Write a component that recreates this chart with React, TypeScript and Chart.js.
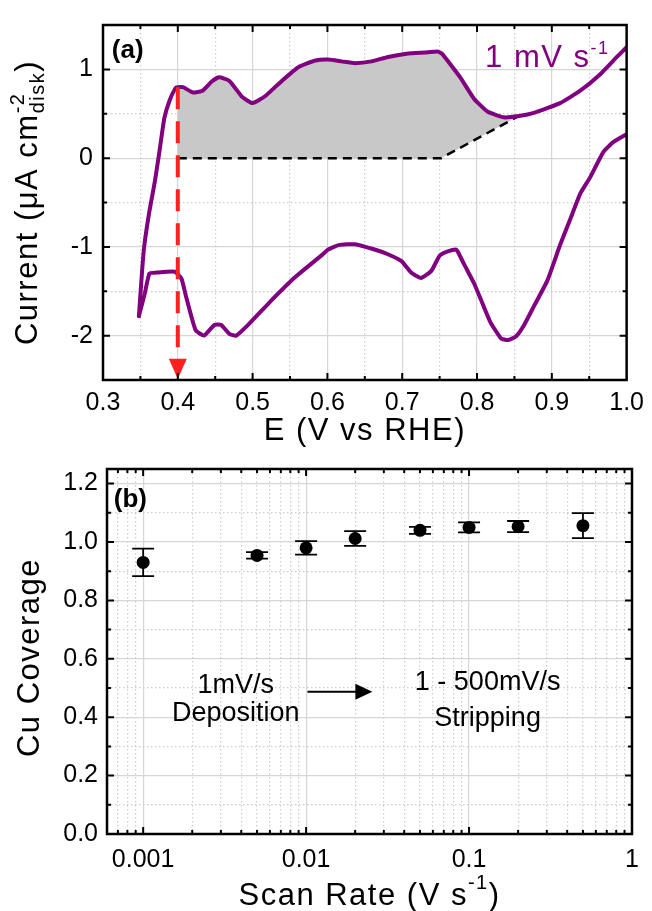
import React, { useEffect, useRef } from 'react';
import { Chart, registerables } from 'chart.js';
Chart.register(...registerables);

const FONT = "'Liberation Sans', Arial, sans-serif";
const PURPLE = '#800080';
const RED = '#ff2020';

// ---------------- Panel (a): cyclic voltammogram ----------------
const anodicE = [0.348, 0.352, 0.355, 0.362, 0.369, 0.375, 0.382, 0.389, 0.397, 0.400, 0.407, 0.420, 0.433, 0.445, 0.455, 0.469, 0.486, 0.500, 0.517, 0.539, 0.562, 0.584, 0.601, 0.619, 0.637, 0.659, 0.681, 0.708, 0.730, 0.748, 0.754, 0.765, 0.778, 0.796, 0.814, 0.836, 0.856, 0.876, 0.911, 0.938, 0.964, 0.987, 1.000];
const anodicI = [-1.78, -1.30, -1.00, -0.60, -0.28, 0.05, 0.45, 0.65, 0.79, 0.80, 0.80, 0.74, 0.76, 0.86, 0.91, 0.87, 0.69, 0.62, 0.70, 0.87, 1.03, 1.10, 1.11, 1.09, 1.07, 1.09, 1.14, 1.18, 1.19, 1.20, 1.17, 1.05, 0.905, 0.67, 0.525, 0.46, 0.475, 0.51, 0.62, 0.76, 0.94, 1.14, 1.25];
const cathodicE = [1.000, 0.982, 0.969, 0.951, 0.938, 0.925, 0.911, 0.894, 0.876, 0.863, 0.852, 0.841, 0.832, 0.818, 0.805, 0.796, 0.783, 0.774, 0.772, 0.761, 0.750, 0.739, 0.725, 0.712, 0.699, 0.680, 0.663, 0.637, 0.615, 0.601, 0.593, 0.557, 0.522, 0.495, 0.478, 0.469, 0.458, 0.449, 0.435, 0.424, 0.418, 0.411, 0.405, 0.396, 0.371, 0.362, 0.356, 0.348];
const cathodicI = [0.27, 0.18, 0.07, -0.22, -0.40, -0.68, -0.98, -1.38, -1.67, -1.88, -2.01, -2.05, -2.03, -1.85, -1.59, -1.41, -1.20, -1.05, -1.03, -1.05, -1.10, -1.27, -1.35, -1.29, -1.16, -1.08, -1.03, -0.97, -0.98, -1.03, -1.09, -1.34, -1.63, -1.87, -2.00, -1.98, -1.88, -1.88, -2.00, -1.94, -1.78, -1.56, -1.36, -1.28, -1.29, -1.30, -1.52, -1.78];
const baselineE = [0.4, 0.752, 0.856];
const baselineI = [0, 0, 0.475];
const markerE = 0.4;
const markerTopI = 0.80;
const markerBottomI = -2.26;
const arrowTipI = -2.5;
const xMajorA = [0.3, 0.4, 0.5, 0.6, 0.7, 0.8, 0.9, 1.0];
const xMinorA = [0.35, 0.45, 0.55, 0.65, 0.75, 0.85, 0.95];
const yMajorA = [-2, -1, 0, 1];
const yMinorA = [-2.5, -1.5, -0.5, 0.5, 1.5];

// ---------------- Panel (b): Cu coverage vs scan rate ----------------
const scanRate = [0.001, 0.005, 0.01, 0.02, 0.05, 0.1, 0.2, 0.5];
const coverage = [0.930, 0.954, 0.980, 1.012, 1.040, 1.050, 1.053, 1.056];
const coverageErr = [0.047, 0.011, 0.023, 0.025, 0.012, 0.017, 0.019, 0.043];
const xMajorB = [0.001, 0.01, 0.1, 1];
const xDecadesB = [0.0001, 0.001, 0.01, 0.1];
const yMajorB = [0, 0.2, 0.4, 0.6, 0.8, 1.0, 1.2];
const yMinorB = [0.1, 0.3, 0.5, 0.7, 0.9, 1.1];
const noteText = ['1mV/s', 'Deposition', '1 - 500mV/s', 'Stripping'];
const noteX = [0.0037, 0.0037, 0.13, 0.13];
const noteY = [0.483, 0.387, 0.494, 0.370];
const arrowX = [0.0102, 0.0255];
const arrowY = 0.487;

const isIn = (arr: number[], v: number) => arr.some((a) => Math.abs(a - v) <= 1e-6 * Math.max(1e-3, Math.abs(a)));
const sorted = (a: number[]) => [...a].sort((p, q) => p - q);

const xTicksA = sorted([...xMajorA, ...xMinorA]);
const yTicksA = sorted([...yMajorA, ...yMinorA]);
const xMinorB: number[] = [];
xDecadesB.forEach((d) => {
  for (let k = 2; k <= 9; k++) {
    const v = Math.round(k * d * 1e6) / 1e6;
    if (v >= 0.0006 && v <= 1) xMinorB.push(v);
  }
});
const xTicksB = sorted([...xMajorB, ...xMinorB]);
const yTicksB = sorted([...yMajorB, ...yMinorB]);

interface Seg { text: string; size: number; dy: number; bold?: boolean; under?: { text: string; size: number; dy: number } }

function drawRich(ctx: any, segs: Seg[], x: number, y: number, angle: number, color: string, spacing: number) {
  ctx.save();
  ctx.translate(x, y);
  ctx.rotate(angle);
  ctx.fillStyle = color;
  ctx.textBaseline = 'alphabetic';
  ctx.textAlign = 'left';
  ctx.letterSpacing = spacing + 'px';
  const widths = segs.map((s) => {
    ctx.font = `${s.bold ? 'bold ' : ''}${s.size}px ${FONT}`;
    let w = ctx.measureText(s.text).width;
    if (s.under) {
      ctx.font = `${s.under.size}px ${FONT}`;
      w = Math.max(w, ctx.measureText(s.under.text).width);
    }
    return w;
  });
  const total = widths.reduce((a, b) => a + b, 0);
  let cur = -total / 2;
  segs.forEach((s, i) => {
    ctx.font = `${s.bold ? 'bold ' : ''}${s.size}px ${FONT}`;
    ctx.fillText(s.text, cur, s.dy);
    if (s.under) {
      ctx.font = `${s.under.size}px ${FONT}`;
      ctx.fillText(s.under.text, cur, s.under.dy);
    }
    cur += widths[i];
  });
  ctx.restore();
}

function drawFrame(ctx: any, a: any, xs: any, ys: any, xt: number[], xm: number[], yt: number[], ym: number[]) {
  ctx.save();
  ctx.strokeStyle = '#000';
  ctx.lineWidth = 2;
  xt.forEach((v) => {
    const p = xs.getPixelForValue(v);
    if (p <= a.left + 1 || p >= a.right - 1) return;
    const L = isIn(xm, v) ? 7 : 4;
    ctx.beginPath();
    ctx.moveTo(p, a.bottom); ctx.lineTo(p, a.bottom - L);
    ctx.moveTo(p, a.top); ctx.lineTo(p, a.top + L);
    ctx.stroke();
  });
  yt.forEach((v) => {
    const p = ys.getPixelForValue(v);
    if (p <= a.top + 1 || p >= a.bottom - 1) return;
    const L = isIn(ym, v) ? 7 : 4;
    ctx.beginPath();
    ctx.moveTo(a.left, p); ctx.lineTo(a.left + L, p);
    ctx.moveTo(a.right, p); ctx.lineTo(a.right - L, p);
    ctx.stroke();
  });
  ctx.lineWidth = 2.5;
  ctx.strokeRect(a.left, a.top, a.right - a.left, a.bottom - a.top);
  ctx.restore();
}

const gridColor = (major: number[]) => (c: any) => (c.tick && isIn(major, c.tick.value) ? '#d6d6d6' : '#cccccc');
const gridDash = (major: number[]) => (c: any) => (c.tick && !isIn(major, c.tick.value) ? [1.5, 2.5] : []);

function configA(): any {
  const fillPts: { x: number; y: number }[] = [];
  anodicE.forEach((e, i) => {
    if (e >= markerE - 1e-9 && e <= baselineE[baselineE.length - 1] + 1e-9) fillPts.push({ x: e, y: anodicI[i] });
  });
  for (let i = baselineE.length - 1; i >= 0; i--) fillPts.push({ x: baselineE[i], y: baselineI[i] });
  const anodic = anodicE.map((e, i) => ({ x: e, y: anodicI[i] }));
  const cathodic = cathodicE.map((e, i) => ({ x: e, y: cathodicI[i] }));
  const plugin = {
    id: 'decorA',
    afterDatasetsDraw(chart: any) {
      const { ctx, chartArea: a, scales } = chart;
      const x = scales.x, y = scales.y;
      const px = x.getPixelForValue(markerE);
      const tip = y.getPixelForValue(arrowTipI);
      const base = y.getPixelForValue(markerBottomI);
      ctx.save();
      ctx.fillStyle = RED;
      ctx.beginPath();
      ctx.moveTo(px - 9, base);
      ctx.lineTo(px + 9, base);
      ctx.lineTo(px, tip - 1);
      ctx.closePath();
      ctx.fill();
      ctx.restore();
      drawFrame(ctx, a, x, y, xTicksA, xMajorA, yTicksA, yMajorA);
      ctx.save();
      ctx.font = `bold 26px ${FONT}`;
      ctx.fillStyle = '#000';
      ctx.textAlign = 'center';
      ctx.textBaseline = 'middle';
      ctx.fillText('(a)', x.getPixelForValue(0.333), y.getPixelForValue(1.21));
      ctx.restore();
      drawRich(ctx, [
        { text: '1 mV s', size: 31, dy: 0 },
        { text: '-1', size: 18, dy: -13 },
      ], x.getPixelForValue(0.894), y.getPixelForValue(1.03), 0, PURPLE, 1.5);
      drawRich(ctx, [{ text: 'E (V vs RHE)', size: 31, dy: 0 }], (a.left + a.right) / 2, a.bottom + 60, 0, '#000', 1.5);
      drawRich(ctx, [
        { text: 'Current (\u03bcA cm', size: 31, dy: 0 },
        { text: '-2', size: 20, dy: -13, under: { text: 'disk', size: 20, dy: 7 } },
        { text: ')', size: 31, dy: 0 },
      ], 37, (a.top + a.bottom) / 2, -Math.PI / 2, '#000', 1.5);
    },
  };
  const cvStyle = { borderColor: PURPLE, borderWidth: 4, pointRadius: 0, fill: false, borderJoinStyle: 'round', borderCapStyle: 'round', tension: 0.15, order: 2 };
  return {
    type: 'line',
    data: {
      datasets: [
        { data: fillPts, fill: 'shape', backgroundColor: '#c8c8c8', borderWidth: 0, pointRadius: 0, order: 4 },
        { data: baselineE.map((e, i) => ({ x: e, y: baselineI[i] })), borderColor: '#000', borderWidth: 2.5, borderDash: [9, 6], pointRadius: 0, fill: false, order: 3 },
        { data: anodic, ...cvStyle },
        { data: cathodic, ...cvStyle },
        { data: [{ x: markerE, y: markerTopI }, { x: markerE, y: markerBottomI }], borderColor: RED, borderWidth: 4, borderDash: [22, 12], pointRadius: 0, fill: false, order: 1 },
      ],
    },
    options: {
      animation: false,
      responsive: false,
      events: [],
      layout: { padding: { top: 12, right: 22, left: 0, bottom: 0 } },
      plugins: { legend: { display: false }, tooltip: { enabled: false } },
      scales: {
        x: {
          type: 'linear', min: 0.3, max: 1.0,
          afterBuildTicks: (s: any) => { s.ticks = xTicksA.map((v) => ({ value: v })); },
          afterFit: (s: any) => { s.height = 72; },
          ticks: { autoSkip: false, maxRotation: 0, minRotation: 0, padding: 8, color: '#000', font: { family: FONT, size: 25 }, callback: (v: any) => (isIn(xMajorA, v) ? Number(v).toFixed(1) : '') },
          grid: { drawTicks: false, color: gridColor(xMajorA), lineWidth: 1.2 },
          border: { display: false, dash: gridDash(xMajorA) },
        },
        y: {
          type: 'linear', min: -2.5, max: 1.5,
          afterBuildTicks: (s: any) => { s.ticks = yTicksA.map((v) => ({ value: v })); },
          afterFit: (s: any) => { s.width = 103; },
          ticks: { autoSkip: false, padding: 10, color: '#000', font: { family: FONT, size: 25 }, callback: (v: any) => (isIn(yMajorA, v) ? String(Math.round(v)) : '') },
          grid: { drawTicks: false, color: gridColor(yMajorA), lineWidth: 1.2 },
          border: { display: false, dash: gridDash(yMajorA) },
        },
      },
    },
    plugins: [plugin],
  };
}

function configB(): any {
  const plugin = {
    id: 'decorB',
    beforeDatasetsDraw(chart: any) {
      const { ctx, scales } = chart;
      const x = scales.x, y = scales.y;
      ctx.save();
      ctx.strokeStyle = '#000';
      ctx.lineWidth = 1.8;
      scanRate.forEach((r, i) => {
        const px = x.getPixelForValue(r);
        const t = y.getPixelForValue(coverage[i] + coverageErr[i]);
        const b = y.getPixelForValue(coverage[i] - coverageErr[i]);
        ctx.beginPath();
        ctx.moveTo(px, t); ctx.lineTo(px, b);
        ctx.moveTo(px - 11, t); ctx.lineTo(px + 11, t);
        ctx.moveTo(px - 11, b); ctx.lineTo(px + 11, b);
        ctx.stroke();
      });
      ctx.restore();
    },
    afterDatasetsDraw(chart: any) {
      const { ctx, chartArea: a, scales } = chart;
      const x = scales.x, y = scales.y;
      drawFrame(ctx, a, x, y, xTicksB, xMajorB, yTicksB, yMajorB);
      ctx.save();
      ctx.fillStyle = '#000';
      ctx.textAlign = 'center';
      ctx.textBaseline = 'middle';
      ctx.font = `bold 26px ${FONT}`;
      ctx.fillText('(b)', x.getPixelForValue(0.000835), y.getPixelForValue(1.145));
      ctx.textBaseline = 'alphabetic';
      ctx.font = `27px ${FONT}`;
      noteText.forEach((t, i) => ctx.fillText(t, x.getPixelForValue(noteX[i]), y.getPixelForValue(noteY[i])));
      const x0 = x.getPixelForValue(arrowX[0]);
      const x1 = x.getPixelForValue(arrowX[1]);
      const py = y.getPixelForValue(arrowY);
      ctx.strokeStyle = '#000';
      ctx.lineWidth = 2;
      ctx.beginPath();
      ctx.moveTo(x0, py); ctx.lineTo(x1 - 15, py);
      ctx.stroke();
      ctx.beginPath();
      ctx.moveTo(x1, py); ctx.lineTo(x1 - 17, py - 8); ctx.lineTo(x1 - 17, py + 8);
      ctx.closePath();
      ctx.fill();
      ctx.restore();
      drawRich(ctx, [
        { text: 'Scan Rate (V s', size: 31, dy: 0 },
        { text: '-1', size: 20, dy: -16 },
        { text: ')', size: 31, dy: 0 },
      ], (a.left + a.right) / 2, a.bottom + 71, 0, '#000', 1.5);
      drawRich(ctx, [{ text: 'Cu Coverage', size: 31, dy: 0 }], 39, (a.top + a.bottom) / 2 + 6, -Math.PI / 2, '#000', 1.5);
    },
  };
  return {
    type: 'scatter',
    data: {
      datasets: [
        { data: scanRate.map((r, i) => ({ x: r, y: coverage[i] })), backgroundColor: '#000', borderWidth: 0, pointRadius: 6.5 },
      ],
    },
    options: {
      animation: false,
      responsive: false,
      events: [],
      layout: { padding: { top: 29, right: 20, left: 0, bottom: 0 } },
      plugins: { legend: { display: false }, tooltip: { enabled: false } },
      scales: {
        x: {
          type: 'logarithmic', min: 0.0006, max: 1,
          afterBuildTicks: (s: any) => { s.ticks = xTicksB.map((v) => ({ value: v })); },
          afterFit: (s: any) => { s.height = 77; },
          ticks: { autoSkip: false, maxRotation: 0, minRotation: 0, padding: 11, color: '#000', font: { family: FONT, size: 25 }, callback: (v: any) => (isIn(xMajorB, v) ? String(Number(v)) : '') },
          grid: { drawTicks: false, color: gridColor(xMajorB), lineWidth: 1.2 },
          border: { display: false, dash: gridDash(xMajorB) },
        },
        y: {
          type: 'linear', min: 0, max: 1.25,
          afterBuildTicks: (s: any) => { s.ticks = yTicksB.map((v) => ({ value: v })); },
          afterFit: (s: any) => { s.width = 107; },
          ticks: { autoSkip: false, padding: 9, color: '#000', font: { family: FONT, size: 25 }, callback: (v: any) => (isIn(yMajorB, v) ? Number(v).toFixed(1) : '') },
          grid: { drawTicks: false, color: gridColor(yMajorB), lineWidth: 1.2 },
          border: { display: false, dash: gridDash(yMajorB) },
        },
      },
    },
    plugins: [plugin],
  };
}

export default function App() {
  const refA = useRef<HTMLCanvasElement>(null);
  const refB = useRef<HTMLCanvasElement>(null);
  useEffect(() => {
    const ca = new Chart(refA.current as HTMLCanvasElement, configA());
    const cb = new Chart(refB.current as HTMLCanvasElement, configB());
    return () => {
      ca.destroy();
      cb.destroy();
    };
  }, []);
  return (
    <div style={{ position: 'absolute', left: 0, top: 0, width: 652, height: 911, background: '#fff' }}>
      <canvas ref={refA} width={652} height={452} style={{ position: 'absolute', left: 0, top: 0, width: 652, height: 452 }} />
      <canvas ref={refB} width={652} height={471} style={{ position: 'absolute', left: 0, top: 440, width: 652, height: 471 }} />
    </div>
  );
}
